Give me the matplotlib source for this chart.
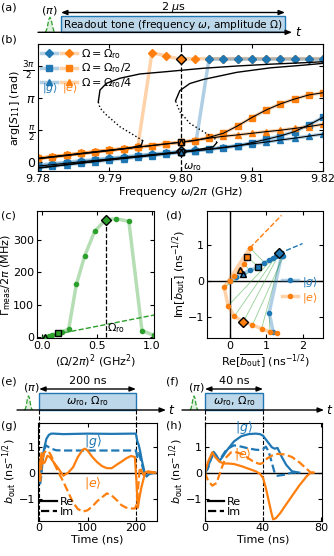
import matplotlib.pyplot as plt
import numpy as np
from matplotlib.legend_handler import HandlerTuple
from matplotlib.lines import Line2D
from matplotlib.patches import Rectangle
from matplotlib import transforms

# ---------------- data ----------------
# (b) phase of S11 vs drive frequency
freq = [9.780, 9.782, 9.784, 9.786, 9.788, 9.790, 9.792, 9.794, 9.796, 9.798, 9.800,
        9.802, 9.804, 9.806, 9.808, 9.810, 9.812, 9.814, 9.816, 9.818, 9.820]
g_full = [-0.15, -0.08, -0.01, 0.06, 0.12, 0.19, 0.25, 0.32, 0.39, 0.45, 0.52,
          0.59, 5.05, 5.05, 5.05, 5.05, 5.05, 5.05, 5.05, 5.05, 5.05]
g_half = [-0.20, -0.13, -0.06, 0.01, 0.08, 0.15, 0.22, 0.29, 0.36, 0.43, 0.50,
          0.56, 0.62, 0.70, 0.79, 0.95, 1.11, 1.28, 1.49, 1.82, 2.19]
g_quarter = [-0.28, -0.21, -0.13, -0.06, 0.02, 0.09, 0.17, 0.24, 0.32, 0.39, 0.47,
             0.55, 0.63, 0.72, 0.81, 0.89, 0.98, 1.08, 1.17, 1.27, 1.37]
e_full = [0.18, 0.26, 0.34, 0.42, 0.50, 0.58, 0.65, 0.73, 5.37, 5.20, 5.04,
          5.07, 5.07, 5.07, 5.07, 5.07, 5.07, 5.07, 5.07, 5.07, 5.07]
e_half = [0.18, 0.26, 0.34, 0.42, 0.50, 0.58, 0.65, 0.73, 0.81, 0.89, 0.97,
          1.05, 1.21, 1.41, 1.77, 2.18, 2.55, 2.85, 3.09, 3.29, 3.40]
e_quarter = [0.18, 0.26, 0.34, 0.42, 0.50, 0.58, 0.65, 0.73, 0.81, 0.89, 0.97,
             1.07, 1.17, 1.26, 1.33, 1.41, 1.49, 1.56, 1.65, 1.74, 1.85]

# model curves (bistable)
mA_low_f = [9.780, 9.785, 9.790, 9.793, 9.7945, 9.7947]
mA_low_v = [0.16, 0.36, 0.56, 0.70, 0.82, 1.05]
mA_uns_f = [9.7947, 9.7942, 9.7934, 9.7915, 9.7896, 9.7887, 9.78846]
mA_uns_v = [1.05, 1.16, 1.33, 1.73, 2.31, 2.65, 2.95]
mA_up_f = [9.78846, 9.7887, 9.7896, 9.7915, 9.7943, 9.7976, 9.8032, 9.8079, 9.8126, 9.8172, 9.820]
mA_up_v = [2.95, 3.53, 3.86, 4.11, 4.32, 4.42, 4.60, 4.71, 4.80, 4.87, 4.92]
mB_low_f = [9.780, 9.790, 9.800, 9.802, 9.8046, 9.8051]
mB_low_v = [-0.30, 0.12, 0.50, 0.58, 0.75, 0.95]
mB_uns_f = [9.8051, 9.8048, 9.8032, 9.8013, 9.7999, 9.7993]
mB_uns_v = [0.95, 1.16, 1.49, 1.90, 2.47, 3.00]
mB_up_f = [9.7993, 9.7999, 9.8013, 9.8032, 9.8079, 9.8126, 9.8172, 9.820]
mB_up_v = [3.00, 3.50, 3.85, 4.05, 4.40, 4.62, 4.75, 4.84]

# (c) measurement rate vs drive power
pow_x = [0.02, 0.06, 0.09, 0.14, 0.18, 0.24, 0.31, 0.385, 0.477, 0.578, 0.676, 0.79, 0.91, 1.02]
gam_y = [1, 3, 6, 12, 16, 25, 163, 250, 327, 363, 366, 358, 20, 5]
lin_x = [0.0, 1.02]
lin_y = [0.0, 68.0]

# (d) mean output field, |g> and |e>
g_re = [0, 0.18, 0.37, 0.55, 0.78, 0.95, 1.08, 1.18, 1.27, 1.36, 1.47, 1.42, 1.08, 1.19]
g_im = [0, 0.10, 0.20, 0.29, 0.39, 0.50, 0.57, 0.62, 0.68, 0.76, 0.68, 0.70, -0.88, -1.41]
e_re = [0, 0.10, 0.28, 0.38, 0.48, 0.55, -0.16, -0.05, 0.12, 0.37, 0.62, 0.87, 1.10, 1.30]
e_im = [0, 0.12, 0.30, 0.47, 0.66, 0.91, -0.18, -0.69, -0.98, -1.13, -1.22, -1.32, -1.41, -1.45]
g_fit_re = [1.36, 2.0]
g_fit_im = [0.76, 1.03]
e_fit_re = [0.55, 1.42]
e_fit_im = [0.91, 1.81]

# (g) 200 ns readout traces
tg_gre = [0, 3, 6, 10, 15, 20, 25, 30, 50, 100, 150, 195, 200, 203, 206, 209, 212, 215, 218, 222, 228, 240]
vg_gre = [0, 0.1, 0.4, 0.9, 1.3, 1.45, 1.5, 1.5, 1.48, 1.5, 1.49, 1.5, 1.5, 1.2, 1.05, 0.8, 0.5, 0.25, 0.0, -0.15, -0.05, 0.0]
tg_gim = [0, 2, 4, 7, 10, 14, 18, 25, 35, 50, 100, 150, 200, 203, 206, 210, 214, 218, 222, 230, 240]
vg_gim = [0, -0.45, -0.2, 0.4, 0.85, 1.05, 1.0, 0.92, 0.86, 0.85, 0.85, 0.85, 0.85, 0.6, 0.75, 0.5, 0.2, 0.0, -0.05, 0.0, 0.0]
tg_ere = [0, 2, 5, 8, 12, 17, 22, 30, 40, 50, 60, 70, 80, 90, 95, 100, 110, 120, 130, 140, 150, 160,
          170, 180, 190, 198, 201, 204, 207, 211, 215, 219, 225, 240]
vg_ere = [0, 0.4, 0.75, 0.35, 0.4, 0.65, 0.6, 0.4, 0.15, -0.12, 0.0, 0.2, 0.6, 0.88, 0.92, 0.85, 0.6, 0.4,
          0.25, 0.17, 0.17, 0.3, 0.42, 0.55, 0.64, 0.6, -0.3, -1.35, -1.0, -0.6, -0.3, 0.0, 0.05, 0.0]
tg_eim = [0, 2, 5, 10, 15, 20, 25, 30, 40, 50, 60, 70, 80, 90, 100, 110, 120, 130, 140, 150, 160, 170,
          180, 190, 198, 202, 205, 208, 212, 216, 220, 230, 240]
vg_eim = [0, -0.4, 0.3, 0.75, 0.85, 0.8, 0.65, 0.4, 0.0, -0.35, -0.75, -1.15, -1.4, -1.5, -1.45, -1.3,
          -1.1, -0.95, -0.8, -0.88, -1.05, -1.25, -1.35, -1.38, -1.38, -1.2, -0.5, 0.2, 0.05, -0.1, 0.0, 0.0, 0.0]

# (h) 40 ns readout traces
th_gre = [0, 2, 4, 6, 8, 10, 12, 15, 20, 25, 30, 35, 38, 40, 43, 46, 48, 50, 53, 56, 60, 65]
vh_gre = [0, 0.2, 0.55, 0.8, 0.65, 0.45, 0.6, 0.85, 1.2, 1.4, 1.48, 1.5, 1.48, 1.42, 1.2, 0.98, 0.92, 0.95, 0.6, 0.3, 0.05, 0.0]
th_gim = [0, 2, 4, 6, 8, 10, 12, 15, 20, 25, 30, 35, 38, 40, 42, 44, 46, 48, 50, 55, 60, 65]
vh_gim = [0, 0.15, 0.5, 0.75, 0.6, 0.45, 0.65, 0.9, 1.05, 1.0, 0.93, 0.88, 0.87, 0.9, 1.0, 0.8, 0.4, 0.0, -0.12, -0.08, 0.0, 0.0]
th_ere = [0, 2, 5, 7, 10, 13, 16, 20, 25, 30, 35, 38, 40, 42, 44, 46, 47, 49, 52, 55, 60, 65, 70, 73, 75]
vh_ere = [0, 0.4, 0.78, 0.6, 0.42, 0.35, 0.35, 0.33, 0.25, 0.15, 0.05, -0.05, -0.2, -0.6, -1.1, -1.6,
          -1.8, -1.75, -1.55, -1.3, -0.9, -0.5, -0.15, 0.0, 0.0]
th_eim = [0, 2, 5, 8, 11, 14, 18, 22, 26, 30, 34, 38, 40, 43, 46, 50, 55, 60, 65, 70, 73, 75]
vh_eim = [0, -0.3, -0.5, -0.4, 0.1, 0.55, 0.78, 0.78, 0.7, 0.55, 0.4, 0.33, 0.38, 0.55, 0.65, 0.72, 0.7,
          0.6, 0.4, 0.15, 0.0, 0.0]

# pi-pulse sketch shape
pulse_shape = [0, 0.1, 0.4, 0.85, 1.0, 0.85, 0.4, 0.1, 0]

# ---------------- style ----------------
plt.rcParams['font.family'] = 'DejaVu Sans'
plt.rcParams['font.size'] = 8
plt.rcParams['mathtext.fontset'] = 'dejavusans'
plt.rcParams['xtick.direction'] = 'in'
plt.rcParams['ytick.direction'] = 'in'
plt.rcParams['xtick.top'] = True
plt.rcParams['ytick.right'] = True
plt.rcParams['xtick.major.size'] = 3
plt.rcParams['ytick.major.size'] = 3
plt.rcParams['xtick.major.pad'] = 2
plt.rcParams['ytick.major.pad'] = 2
plt.rcParams['axes.labelpad'] = 1

BLUE = '#1f77b4'
ORANGE = '#ff7f0e'
GREEN = '#2ca02c'
LBLUE = (0.12, 0.47, 0.71, 0.35)
LORANGE = (1.0, 0.5, 0.05, 0.35)
LGREEN = (0.17, 0.63, 0.17, 0.35)

W, H = 334, 556


def box(l, t, r, b):
    return [l / W, 1 - b / H, (r - l) / W, (b - t) / H]


fig = plt.figure(figsize=(W / 100, H / 100), dpi=100)
ov = fig.add_axes([0, 0, 1, 1])
ov.set_xlim(0, W)
ov.set_ylim(H, 0)
ov.axis('off')

# ---------------- (b) ----------------
ax = fig.add_axes(box(38, 44, 323, 171))
handles = []
for gv, ev, m, ms in [(g_full, e_full, 'D', 4.5), (g_half, e_half, 's', 4.5), (g_quarter, e_quarter, '^', 4.5)]:
    ho, = ax.plot(freq, ev, color=LORANGE, lw=2.5, marker=m, ms=ms, mfc=ORANGE, mec=ORANGE, zorder=2)
    hb, = ax.plot(freq, gv, color=LBLUE, lw=2.5, marker=m, ms=ms, mfc=BLUE, mec=BLUE, zorder=2)
    handles.append((hb, ho))
for v in [e_half, e_quarter, g_half, g_quarter]:
    ax.plot(freq, v, 'k', lw=0.8, zorder=3)
for lf, lv, uf, uv, pf, pv in [(mA_low_f, mA_low_v, mA_uns_f, mA_uns_v, mA_up_f, mA_up_v),
                               (mB_low_f, mB_low_v, mB_uns_f, mB_uns_v, mB_up_f, mB_up_v)]:
    ax.plot(lf, lv, 'k', lw=1.0, zorder=3)
    ax.plot(uf, uv, 'k:', lw=1.0, zorder=3)
    ax.plot(pf, pv, 'k', lw=1.0, zorder=3)
for v, c, m in [(e_full, ORANGE, 'D'), (e_half, ORANGE, 's'), (e_quarter, ORANGE, '^'),
                (g_full, BLUE, 'D'), (g_half, BLUE, 's'), (g_quarter, BLUE, '^')]:
    ax.plot(freq[10], v[10], marker=m, ms=5, mfc=c, mec='k', mew=1, zorder=4)
ax.axvline(9.80, color='k', ls='--', lw=0.9, zorder=1)
ax.text(9.8004, -0.35, r'$\omega_{\rm ro}$', fontsize=8)
ax.set_xlim(9.78, 9.82)
ax.set_ylim(-0.44, 5.79)
ax.set_xticks([9.78, 9.79, 9.80, 9.81, 9.82])
ax.set_xticklabels(['9.78', '9.79', '9.80', '9.81', '9.82'])
ax.set_yticks([0, np.pi / 2, np.pi, 3 * np.pi / 2])
ax.set_yticklabels(['0', r'$\frac{\pi}{2}$', r'$\pi$', r'$\frac{3\pi}{2}$'], fontsize=9)
ax.set_xlabel(r'Frequency $\omega/2\pi$ (GHz)')
ax.set_ylabel(r'arg[$S_{11}$] (rad)', labelpad=0)
ax.legend(handles, [r'$\Omega=\Omega_{\rm ro}$', r'$\Omega=\Omega_{\rm ro}/2$', r'$\Omega=\Omega_{\rm ro}/4$'],
          handler_map={tuple: HandlerTuple(ndivide=None, pad=0.3)}, loc='upper left', frameon=False,
          handlelength=3.2, handletextpad=0.4, labelspacing=0.05, borderaxespad=0.2, borderpad=0.1)
ax.text(0.015, 0.65, r'$|g\rangle$', color=BLUE, transform=ax.transAxes, va='center')
ax.text(0.085, 0.65, r'$|e\rangle$', color=ORANGE, transform=ax.transAxes, va='center')

# ---------------- (c) ----------------
axc = fig.add_axes(box(37, 211, 154, 338))
axc.plot(pow_x, gam_y, color=LGREEN, lw=2.5, marker='o', ms=3, mfc=GREEN, mec=GREEN)
axc.plot(lin_x, lin_y, '--', color=GREEN, lw=1)
axc.plot([pow_x[9], pow_x[9]], [0, gam_y[9]], 'k--', lw=0.9)
for i, m in [(0, '^'), (3, 's'), (9, 'D')]:
    axc.plot(pow_x[i], gam_y[i], marker=m, ms=5, mfc=GREEN, mec='k', mew=1, zorder=4)
axc.text(pow_x[9] + 0.01, 18, r'$\Omega_{\rm ro}$')
axc.set_xlim(-0.05, 1.02)
axc.set_ylim(-3, 390)
axc.set_xticks([0, 0.5, 1.0])
axc.set_yticks([0, 100, 200, 300])
axc.set_xlabel(r'$(\Omega/2\pi)^2$ (GHz$^2$)')
axc.set_ylabel(r'$\Gamma_{\rm meas}/2\pi$ (MHz)', labelpad=0)

# ---------------- (d) ----------------
axd = fig.add_axes(box(206.7, 211, 323.3, 338))
axd.axhline(0, color='k', lw=1)
axd.axvline(0, color='k', lw=1)
for i in range(len(g_re)):
    axd.plot([g_re[i], e_re[i]], [g_im[i], e_im[i]], color=GREEN, lw=0.6, alpha=0.5)
axd.plot(g_fit_re, g_fit_im, '--', color=BLUE, lw=1)
axd.plot(e_fit_re, e_fit_im, '--', color=ORANGE, lw=1)
hg, = axd.plot(g_re, g_im, color=LBLUE, lw=2.5, marker='o', ms=3, mfc=BLUE, mec=BLUE)
he, = axd.plot(e_re, e_im, color=LORANGE, lw=2.5, marker='o', ms=3, mfc=ORANGE, mec=ORANGE)
for i, m in [(2, '^'), (4, 's'), (9, 'D')]:
    axd.plot(g_re[i], g_im[i], marker=m, ms=5, mfc=BLUE, mec='k', mew=1, zorder=4)
    axd.plot(e_re[i], e_im[i], marker=m, ms=5, mfc=ORANGE, mec='k', mew=1, zorder=4)
leg = axd.legend([hg, he], [r'$|g\rangle$', r'$|e\rangle$'], loc='center right', frameon=False,
                 handlelength=1.5, handletextpad=0.3, labelspacing=0.2, borderaxespad=0.1,
                 bbox_to_anchor=(1.0, 0.38))
for t, c in zip(leg.get_texts(), [BLUE, ORANGE]):
    t.set_color(c)
axd.set_xlim(-0.64, 2.57)
axd.set_ylim(-1.58, 1.93)
axd.set_xticks([0, 1, 2])
axd.set_yticks([-1, 0, 1])
axd.set_xlabel(r'Re[$\overline{b_{\rm out}}$] (ns$^{-1/2}$)')
axd.set_ylabel(r'Im[$\overline{b_{\rm out}}$] (ns$^{-1/2}$)', labelpad=0)

# ---------------- (g) and (h) ----------------
axg = fig.add_axes(box(37.7, 422.7, 156.7, 520.7))
axh = fig.add_axes(box(205, 422.7, 321.7, 520.7))
for a, tro, tr in [(axg, 200, [(tg_gre, vg_gre, BLUE, '-'), (tg_gim, vg_gim, BLUE, '--'),
                                (tg_ere, vg_ere, ORANGE, '-'), (tg_eim, vg_eim, ORANGE, '--')]),
                   (axh, 40, [(th_gre, vh_gre, BLUE, '-'), (th_gim, vh_gim, BLUE, '--'),
                              (th_ere, vh_ere, ORANGE, '-'), (th_eim, vh_eim, ORANGE, '--')])]:
    a.axhline(0, color='k', lw=1)
    a.axvline(0, color='k', ls='--', lw=0.8)
    a.axvline(tro, color='k', ls='--', lw=0.8)
    for t, v, c, ls in tr:
        a.plot(t, v, color=c, ls=ls, lw=1.6)
    a.legend([Line2D([], [], color='k', lw=1.6), Line2D([], [], color='k', lw=1.6, ls='--')], ['Re', 'Im'],
             loc='lower left', frameon=False, handlelength=1.4, handletextpad=0.3, labelspacing=0.0,
             borderaxespad=0.1, borderpad=0.2)
    a.set_ylim(-1.85, 1.92)
    a.set_yticks([-1, 0, 1])
    a.set_xlabel('Time (ns)')
    a.set_ylabel(r'$b_{\rm out}$ (ns$^{-1/2}$)', labelpad=0)
axg.set_xlim(-3, 243)
axg.set_xticks([0, 100, 200])
axh.set_xlim(0, 80.5)
axh.set_xticks([0, 40, 80])
axg.text(112, 1.2, r'$|g\rangle$', color=BLUE, fontsize=9, ha='center', va='center')
axg.text(112, -0.4, r'$|e\rangle$', color=ORANGE, fontsize=9, ha='center', va='center')
axh.text(27, 1.72, r'$|g\rangle$', color=BLUE, fontsize=9, ha='center', va='center')
axh.text(26, 0.72, r'$|e\rangle$', color=ORANGE, fontsize=9, ha='center', va='center')

# ---------------- schematics (a), (e), (f) ----------------
BOXC = '#bdd7ea'
arrow_kw = dict(arrowstyle='-|>,head_length=0.45,head_width=0.18', color='k', lw=1, shrinkA=0, shrinkB=0)
dbl_kw = dict(arrowstyle='<|-|>,head_length=0.45,head_width=0.18', color='k', lw=1, shrinkA=0, shrinkB=0)


def pulse(xc, base, height, width):
    n = len(pulse_shape)
    xs = [xc - width / 2 + width * i / (n - 1) for i in range(n)]
    ys = [base - height * p for p in pulse_shape]
    ov.fill(xs, ys, color=GREEN, alpha=0.15, lw=0)
    ov.plot(xs, ys, color=GREEN, ls='--', lw=0.9)


# (a)
ov.add_patch(Rectangle((61, 16), 224, 16, fc=BOXC, ec=BLUE, lw=1))
ov.text(173, 24.5, r'Readout tone (frequency $\omega$, amplitude $\Omega$)', ha='center', va='center', fontsize=7.6)
ov.annotate('', xy=(292, 32.3), xytext=(38, 32.3), arrowprops=arrow_kw)
ov.text(295, 33, r'$t$', va='center', fontsize=9)
ov.annotate('', xy=(285, 12.5), xytext=(61, 12.5), arrowprops=dbl_kw)
ov.text(173, 6.5, r'2 $\mu$s', ha='center', va='center')
ov.text(49, 10.5, r'($\pi$)', ha='center', va='center')
pulse(50, 32.3, 15, 10)

# (e) and (f) aligned with the time axes below
for a, x0, xend, tro, lab in [(axg, 17, 166, 200, '200 ns'), (axh, 182, 324, 40, '40 ns')]:
    tr = transforms.blended_transform_factory(a.transData, ov.transData)
    ov.add_patch(Rectangle((0, 393.3), tro, 16.7, fc=BOXC, ec=BLUE, lw=1, transform=tr))
    ov.text(tro / 2, 401.5, r'$\omega_{\rm ro}$, $\Omega_{\rm ro}$', ha='center', va='center', transform=tr)
    ov.annotate('', xy=(tro, 389), xytext=(0, 389), xycoords=tr, textcoords=tr, arrowprops=dbl_kw)
    ov.text(tro / 2, 381.5, lab, ha='center', va='center', transform=tr)
    for tt in [0, tro]:
        ov.plot([tt, tt], [410, 423], 'k--', lw=0.8, transform=tr)
    ov.annotate('', xy=(xend, 410), xytext=(x0, 410), arrowprops=arrow_kw)
    ov.text(xend + 1.5, 411, r'$t$', va='center', fontsize=9)
pulse(28.5, 410, 14, 8)
ov.text(31, 387, r'($\pi$)', ha='center', va='center')
pulse(194, 410, 14, 8)
ov.text(196, 388, r'($\pi$)', ha='center', va='center')

# panel labels
for lab, x, y in [('(a)', 1, 7), ('(b)', 1, 40), ('(c)', 1, 215), ('(d)', 166, 215),
                  ('(e)', 1, 382), ('(f)', 166, 382), ('(g)', 1, 426), ('(h)', 166, 426)]:
    ov.text(x, y, lab, ha='left', va='center', fontsize=8)

fig.savefig('out.png', dpi=100)
